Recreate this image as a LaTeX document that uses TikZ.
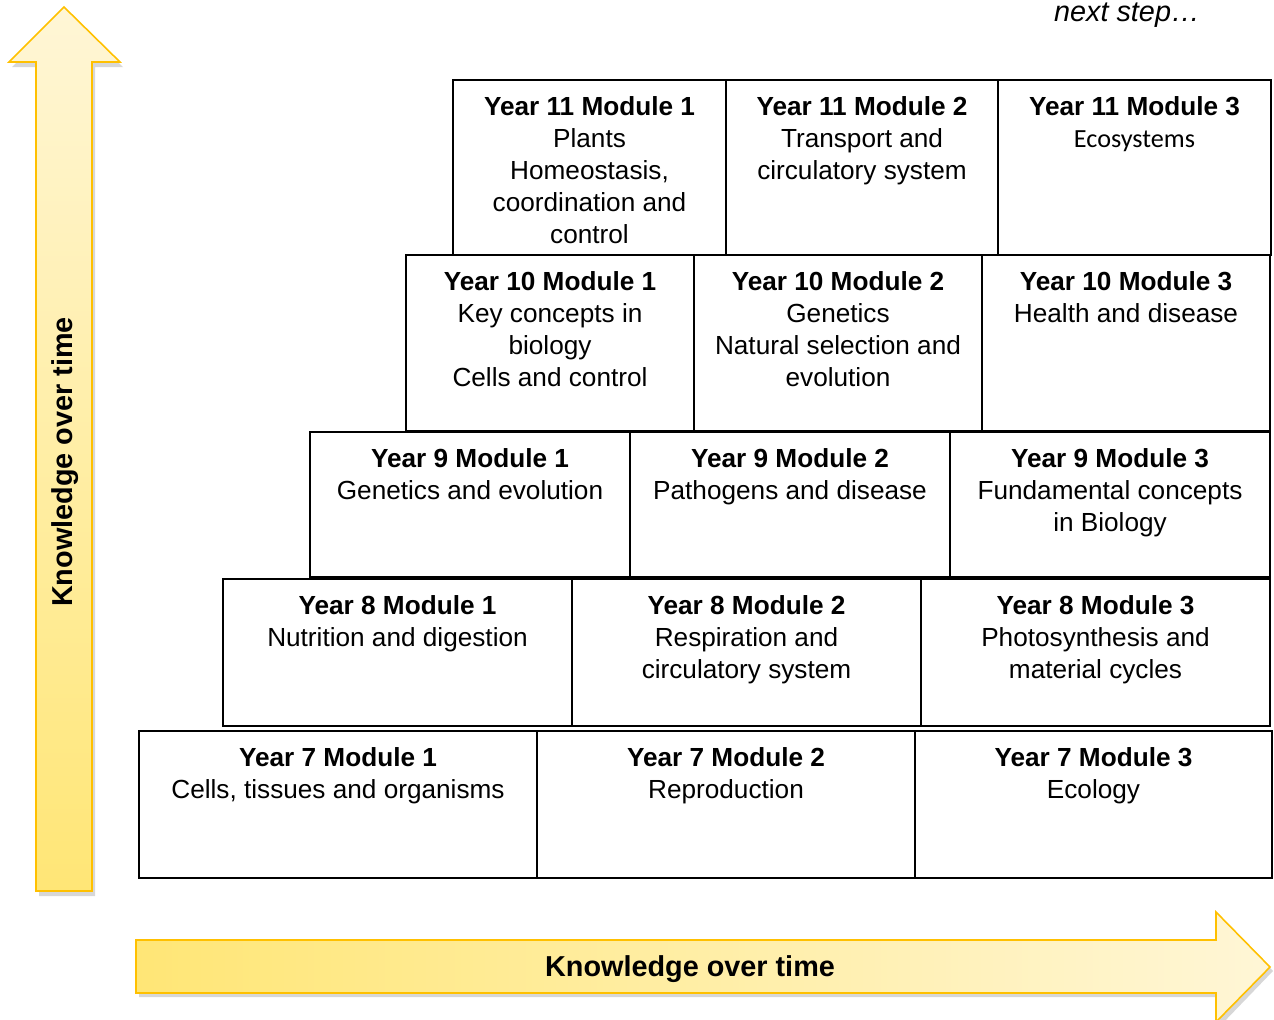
\documentclass[tikz,border=0pt]{standalone}
\usepackage{fontspec}
\setmainfont{Liberation Sans}
\newfontfamily\calibrifont{Carlito}
\usetikzlibrary{calc}
\definecolor{arrowline}{HTML}{FFC000}
\definecolor{arrowlight}{HTML}{FFF6D6}
\definecolor{arrowdark}{HTML}{FFE676}
\tikzset{
  boxline/.style={draw=black, line width=1.3pt},
  celltext/.style={inner sep=0pt, align=center, font=\fontsize{14.9pt}{18.14pt}\selectfont},
  bigtext/.style={inner sep=0pt, font=\fontsize{16.4pt}{19pt}\selectfont\bfseries},
  arrowshadow/.style={fill=black!35, opacity=0.45},
  arrowedge/.style={draw=arrowline, line width=0.9pt, line join=miter},
}
\newcommand\cellbox[6]{%
  \draw[boxline] (#2,#3) rectangle (#4,#5);
  \node[celltext, anchor=north] (#1) at ({(#2+#4)/2},{#3+16.5}) {#6};
}
\begin{document}
\begin{tikzpicture}[x=0.02cm, y=-0.02cm]
\useasboundingbox (0,0) rectangle (1274,1019);

% vertical arrow
\fill[arrowshadow] (67,12) -- (123,67) -- (95,67) -- (95,896) -- (39,896) -- (39,67) -- (12,67) -- cycle;
\shade[top color=arrowlight, bottom color=arrowdark] (64,7) -- (120,62) -- (92,62) -- (92,891) -- (36,891) -- (36,62) -- (9,62) -- cycle;
\draw[arrowedge] (64,7) -- (120,62) -- (92,62) -- (92,891) -- (36,891) -- (36,62) -- (9,62) -- cycle;
\node[bigtext, rotate=90] (vlabel) at (65,462) {Knowledge over time};

% horizontal arrow
\fill[arrowshadow] (139,944) -- (1220,944) -- (1220,916) -- (1273,971) -- (1220,1026) -- (1220,997) -- (139,997) -- cycle;
\shade[left color=arrowdark, right color=arrowlight] (136,940) -- (1216,940) -- (1216,912) -- (1270,967) -- (1216,1022) -- (1216,993) -- (136,993) -- cycle;
\draw[arrowedge] (136,940) -- (1216,940) -- (1216,912) -- (1270,967) -- (1216,1022) -- (1216,993) -- (136,993) -- cycle;
\node[bigtext] (hlabel) at (690,969) {Knowledge over time};

% next step
\node[inner sep=0pt, anchor=north, font=\fontsize{16.4pt}{19pt}\selectfont\itshape] (next) at (1127,3) {next step\dots};

% Year 11
\cellbox{y11a}{453}{80}{726}{255}{\textbf{Year 11 Module 1}\\Plants\\Homeostasis,\\coordination and\\control}
\cellbox{y11b}{726}{80}{998}{255}{\textbf{Year 11 Module 2}\\Transport and\\circulatory system}
\cellbox{y11c}{998}{80}{1271}{255}{\textbf{Year 11 Module 3}\\{\calibrifont Ecosystems}}

% Year 10
\cellbox{y10a}{406}{255}{694}{431}{\textbf{Year 10 Module 1}\\Key concepts in\\biology\\Cells and control}
\cellbox{y10b}{694}{255}{982}{431}{\textbf{Year 10 Module 2}\\Genetics\\Natural selection and\\evolution}
\cellbox{y10c}{982}{255}{1270}{431}{\textbf{Year 10 Module 3}\\Health and disease}

% Year 9
\cellbox{y9a}{310}{432}{630}{577}{\textbf{Year 9 Module 1}\\Genetics and evolution}
\cellbox{y9b}{630}{432}{950}{577}{\textbf{Year 9 Module 2}\\Pathogens and disease}
\cellbox{y9c}{950}{432}{1270}{577}{\textbf{Year 9 Module 3}\\Fundamental concepts\\in Biology}

% Year 8
\cellbox{y8a}{223}{579}{572}{726}{\textbf{Year 8 Module 1}\\Nutrition and digestion}
\cellbox{y8b}{572}{579}{921}{726}{\textbf{Year 8 Module 2}\\Respiration and\\circulatory system}
\cellbox{y8c}{921}{579}{1270}{726}{\textbf{Year 8 Module 3}\\Photosynthesis and\\material cycles}

% Year 7
\cellbox{y7a}{139}{731}{537}{878}{\textbf{Year 7 Module 1}\\Cells, tissues and organisms}
\cellbox{y7b}{537}{731}{915}{878}{\textbf{Year 7 Module 2}\\Reproduction}
\cellbox{y7c}{915}{731}{1272}{878}{\textbf{Year 7 Module 3}\\Ecology}
\end{tikzpicture}
\end{document}
